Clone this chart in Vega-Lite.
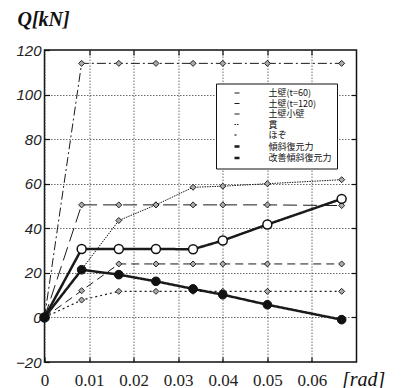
{
  "$schema": "https://vega.github.io/schema/vega-lite/v6.json",
  "width": 312,
  "height": 312,
  "autosize": {"type": "none"},
  "padding": {"left": 44.5, "top": 50, "right": 46.5, "bottom": 26},
  "background": "white",
  "config": {
    "view": {"stroke": "#111", "strokeWidth": 1.5},
    "axis": {
      "domain": false,
      "gridColor": "#444",
      "gridDash": [1.5, 1.5],
      "gridWidth": 0.8,
      "tickColor": "#111",
      "tickWidth": 1.2,
      "tickSize": -5,
      "labelColor": "#222",
      "titleColor": "#111"
    },
    "legend": {
      "title": null,
      "orient": "none",
      "direction": "vertical",
      "legendX": 171.5,
      "legendY": 33.5,
      "padding": 5,
      "rowPadding": 0.5,
      "fillColor": "white",
      "strokeColor": "#111",
      "symbolSize": 25,
      "symbolOffset": 11.5,
      "labelOffset": 27,
      "labelFont": "Noto Sans CJK JP",
      "labelFontSize": 9,
      "labelColor": "#111"
    }
  },
  "data": {
    "values": [
      {"s": "土壁(t=60)", "d": 0, "q": 0},
      {"s": "土壁(t=60)", "d": 0.00833, "q": 114},
      {"s": "土壁(t=60)", "d": 0.01667, "q": 114},
      {"s": "土壁(t=60)", "d": 0.025, "q": 114},
      {"s": "土壁(t=60)", "d": 0.03333, "q": 114},
      {"s": "土壁(t=60)", "d": 0.04, "q": 114},
      {"s": "土壁(t=60)", "d": 0.05, "q": 114},
      {"s": "土壁(t=60)", "d": 0.06667, "q": 114},
      {"s": "土壁(t=120)", "d": 0, "q": 0},
      {"s": "土壁(t=120)", "d": 0.00833, "q": 50.5},
      {"s": "土壁(t=120)", "d": 0.01667, "q": 50.5},
      {"s": "土壁(t=120)", "d": 0.025, "q": 50.5},
      {"s": "土壁(t=120)", "d": 0.03333, "q": 50.5},
      {"s": "土壁(t=120)", "d": 0.04, "q": 50.5},
      {"s": "土壁(t=120)", "d": 0.05, "q": 50.5},
      {"s": "土壁(t=120)", "d": 0.06667, "q": 50.2},
      {"s": "土壁小壁", "d": 0, "q": 0},
      {"s": "土壁小壁", "d": 0.00833, "q": 12},
      {"s": "土壁小壁", "d": 0.01667, "q": 24},
      {"s": "土壁小壁", "d": 0.025, "q": 24},
      {"s": "土壁小壁", "d": 0.03333, "q": 24},
      {"s": "土壁小壁", "d": 0.04, "q": 24},
      {"s": "土壁小壁", "d": 0.05, "q": 24},
      {"s": "土壁小壁", "d": 0.06667, "q": 24},
      {"s": "貫", "d": 0, "q": 0},
      {"s": "貫", "d": 0.00833, "q": 21.5},
      {"s": "貫", "d": 0.01667, "q": 43.5},
      {"s": "貫", "d": 0.025, "q": 50.5},
      {"s": "貫", "d": 0.03333, "q": 58.4},
      {"s": "貫", "d": 0.04, "q": 58.9},
      {"s": "貫", "d": 0.05, "q": 60},
      {"s": "貫", "d": 0.06667, "q": 61.8},
      {"s": "ほぞ", "d": 0, "q": 0},
      {"s": "ほぞ", "d": 0.00833, "q": 7.8},
      {"s": "ほぞ", "d": 0.01667, "q": 11.7},
      {"s": "ほぞ", "d": 0.025, "q": 11.7},
      {"s": "ほぞ", "d": 0.03333, "q": 11.7},
      {"s": "ほぞ", "d": 0.04, "q": 11.7},
      {"s": "ほぞ", "d": 0.05, "q": 11.7},
      {"s": "ほぞ", "d": 0.06667, "q": 11.7},
      {"s": "改善傾斜復元力", "d": 0, "q": 0},
      {"s": "改善傾斜復元力", "d": 0.00833, "q": 30.7},
      {"s": "改善傾斜復元力", "d": 0.01667, "q": 30.7},
      {"s": "改善傾斜復元力", "d": 0.025, "q": 30.7},
      {"s": "改善傾斜復元力", "d": 0.03333, "q": 30.6},
      {"s": "改善傾斜復元力", "d": 0.04, "q": 34.5},
      {"s": "改善傾斜復元力", "d": 0.05, "q": 41.7},
      {"s": "改善傾斜復元力", "d": 0.06667, "q": 53.2},
      {"s": "傾斜復元力", "d": 0, "q": 0},
      {"s": "傾斜復元力", "d": 0.00833, "q": 21.4},
      {"s": "傾斜復元力", "d": 0.01667, "q": 19.2},
      {"s": "傾斜復元力", "d": 0.025, "q": 16.2},
      {"s": "傾斜復元力", "d": 0.03333, "q": 12.8},
      {"s": "傾斜復元力", "d": 0.04, "q": 10.2},
      {"s": "傾斜復元力", "d": 0.05, "q": 5.7},
      {"s": "傾斜復元力", "d": 0.06667, "q": -1}
    ]
  },
  "layer": [
    {
      "mark": {"type": "line", "color": "#1a1a1a"},
      "encoding": {
        "x": {
          "field": "d", "type": "quantitative",
          "scale": {"domain": [0, 0.07], "nice": false, "zero": false},
          "axis": {
            "orient": "bottom",
            "values": [0, 0.01, 0.02, 0.03, 0.04, 0.05, 0.06],
            "format": ".2~f",
            "labelFont": "Liberation Serif",
            "labelFontSize": 17,
            "labelPadding": 15,
            "labelFlush": false,
            "title": "[rad]",
            "titleX": 297,
            "titleY": 23,
            "titleAlign": "left",
            "titleBaseline": "alphabetic",
            "titleFont": "Liberation Serif",
            "titleFontStyle": "italic",
            "titleFontWeight": "normal",
            "titleFontSize": 20
          }
        },
        "y": {
          "field": "q", "type": "quantitative",
          "scale": {"domain": [-20, 120], "nice": false},
          "axis": {
            "orient": "left",
            "values": [-20, 0, 20, 40, 60, 80, 100, 120],
            "labelFont": "Liberation Sans",
            "labelFontStyle": "italic",
            "labelFontSize": 15,
            "labelPadding": 8.5,
            "labelFlush": false,
            "title": "Q[kN]",
            "titleAngle": 0,
            "titleX": -27.5,
            "titleY": -25,
            "titleAlign": "left",
            "titleBaseline": "alphabetic",
            "titleFont": "Liberation Serif",
            "titleFontStyle": "italic",
            "titleFontWeight": "bold",
            "titleFontSize": 20
          }
        },
        "strokeDash": {
          "field": "s", "type": "nominal",
          "scale": {
            "domain": ["土壁(t=60)", "土壁(t=120)", "土壁小壁", "貫", "ほぞ", "傾斜復元力", "改善傾斜復元力"],
            "range": [[9, 3, 2, 3], [14, 6], [8, 5], [1.5, 1], [2, 3], [1, 0], [1, 0]]
          },
          "legend": {
            "title": null,
            "orient": "none",
            "legendX": 171.5,
            "legendY": 33.5,
            "encode": {
              "symbols": {
                "shape": {"value": {"expr": "(datum.value === '傾斜復元力' || datum.value === '改善傾斜復元力') ? 'M-6.4,0L-1.6,0M6.4,0L1.6,0M1.6,0A1.6,1.6,0,1,1,-1.6,0A1.6,1.6,0,1,1,1.6,0Z' : 'M-6.4,0L6.4,0M0,-1.3L1.3,0L0,1.3L-1.3,0ZM0,-0.65L-0.65,0L0,0.65L0.65,0Z'"}},
                "fill": {"value": {"expr": "datum.value === '改善傾斜復元力' ? 'white' : '#111'"}},
                "stroke": {"value": "#111"},
                "opacity": {"value": 1}
              }
            }
          }
        },
        "strokeWidth": {
          "field": "s", "type": "nominal",
          "scale": {
            "type": "ordinal",
            "domain": ["土壁(t=60)", "土壁(t=120)", "土壁小壁", "貫", "ほぞ", "傾斜復元力", "改善傾斜復元力"],
            "range": [1, 1, 1, 1, 1.2, 2.5, 2.5]
          },
          "legend": {
            "title": null,
            "orient": "none",
            "legendX": 171.5,
            "legendY": 33.5,
            "encode": {
              "symbols": {
                "shape": {"value": {"expr": "(datum.value === '傾斜復元力' || datum.value === '改善傾斜復元力') ? 'M-6.4,0L-1.6,0M6.4,0L1.6,0M1.6,0A1.6,1.6,0,1,1,-1.6,0A1.6,1.6,0,1,1,1.6,0Z' : 'M-6.4,0L6.4,0M0,-1.3L1.3,0L0,1.3L-1.3,0ZM0,-0.65L-0.65,0L0,0.65L0.65,0Z'"}},
                "fill": {"value": {"expr": "datum.value === '改善傾斜復元力' ? 'white' : '#111'"}},
                "stroke": {"value": "#111"},
                "opacity": {"value": 1}
              }
            }
          }
        }
      }
    },
    {
      "transform": [{"filter": "datum.s !== '傾斜復元力' && datum.s !== '改善傾斜復元力'"}],
      "mark": {"type": "point", "shape": "diamond", "filled": true, "fill": "#aaa", "stroke": "#111", "strokeWidth": 0.9, "size": 36, "opacity": 1},
      "encoding": {
        "x": {
          "field": "d", "type": "quantitative",
          "scale": {"domain": [0, 0.07], "nice": false, "zero": false},
          "axis": {
            "orient": "top",
            "values": [0.01, 0.02, 0.03, 0.04, 0.05, 0.06],
            "labels": false, "grid": false, "title": null
          }
        },
        "y": {
          "field": "q", "type": "quantitative",
          "scale": {"domain": [-20, 120], "nice": false},
          "axis": {
            "orient": "right",
            "values": [0, 20, 40, 60, 80, 100],
            "labels": false, "grid": false, "title": null
          }
        }
      }
    },
    {
      "transform": [{"filter": "datum.s === '改善傾斜復元力'"}],
      "mark": {"type": "point", "shape": "circle", "filled": true, "fill": "white", "stroke": "#111", "strokeWidth": 1.5, "size": 80, "opacity": 1},
      "encoding": {
        "x": {"field": "d", "type": "quantitative", "axis": null},
        "y": {"field": "q", "type": "quantitative", "axis": null}
      }
    },
    {
      "transform": [{"filter": "datum.s === '傾斜復元力'"}],
      "mark": {"type": "point", "shape": "circle", "filled": true, "fill": "#111", "stroke": "#111", "strokeWidth": 1, "size": 75, "opacity": 1},
      "encoding": {
        "x": {"field": "d", "type": "quantitative", "axis": null},
        "y": {"field": "q", "type": "quantitative", "axis": null}
      }
    }
  ]
}
